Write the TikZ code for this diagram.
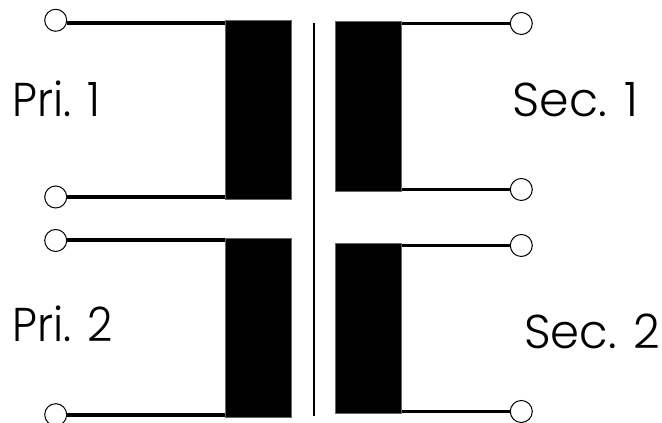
\documentclass[tikz,border=0pt]{standalone}
\usepackage{fontspec}
\setmainfont{Poppins}[UprightFont=* Light]
\tikzset{
	terminal/.style={circle, draw, fill=white, line width=0.02cm, minimum size=0.44cm, inner sep=0},
	coil/.style={rectangle, fill=black, draw=black!60, line width=0.01cm, minimum width=1.32cm, inner sep=0},
	lead/.style={line width=0.08cm},
	seclead/.style={line width=0.065cm},
	wdglabel/.style={inner sep=0, anchor=base west, font=\fontsize{27}{27}\selectfont},
	prilabel/.style={wdglabel, xscale=0.93, transform shape}
}

\begin{document}
\begin{tikzpicture}
		%%%%% START %%%%%
		\useasboundingbox (0, 0) rectangle (13.24, 8.46);
		
		% primary side
		\node[coil, minimum height=3.566cm] (pricoila) at (5.16, 6.263) {};
		\node[coil, minimum height=3.566cm] (pricoilb) at (5.16, 1.903) {};
		\node[terminal] (pria) at (1.114, 8.054) {};
		\node[terminal] (prib) at (1.114, 4.52) {};
		\node[terminal] (pric) at (1.114, 3.65) {};
		\node[terminal] (prid) at (1.114, 0.166) {};
		\draw[lead] (pria.-12) -- (pria.-12 -| pricoila.west);
		\draw[lead] (prib.east) -- (prib.east -| pricoila.west);
		\draw[lead] (pric.east) -- (pric.east -| pricoilb.west);
		\draw[lead] (prid.east) -- (prid.east -| pricoilb.west);
		
		% core
		\coordinate (coretop) at (6.28, 8.0);
		\coordinate (corebot) at (6.28, 0.14);
		\draw[line width=0.054cm] (coretop) -- (corebot);
		
		% secondary side
		\node[coil, minimum height=3.4cm] (seccoila) at (7.366, 6.326) {};
		\node[coil, minimum height=3.386cm] (seccoilb) at (7.366, 1.893) {};
		\node[terminal] (seca) at (10.426, 7.99) {};
		\node[terminal] (secb) at (10.426, 4.67) {};
		\node[terminal] (secc) at (10.426, 3.55) {};
		\node[terminal] (secd) at (10.426, 0.23) {};
		\draw[seclead] (seca.west) -- (seca.west -| seccoila.east);
		\draw[seclead] (secb.west) -- (secb.west -| seccoila.east);
		\draw[seclead] (secc.west) -- (secc.west -| seccoilb.east);
		\draw[seclead] (secd.west) -- (secd.west -| seccoilb.east);
		
		\node[prilabel] (prilabela) at (0.24, 6.12) {Pri. 1};
		\node[prilabel] (prilabelb) at (0.24, 1.62) {Pri. 2};
		\node[wdglabel] (seclabela) at (10.24, 6.12) {Sec. 1};
		\node[wdglabel, xscale=0.98, transform shape] (seclabelb) at (10.48, 1.49) {Sec. 2};
		%%%%% END %%%%%
	\end{tikzpicture}
\end{document}
